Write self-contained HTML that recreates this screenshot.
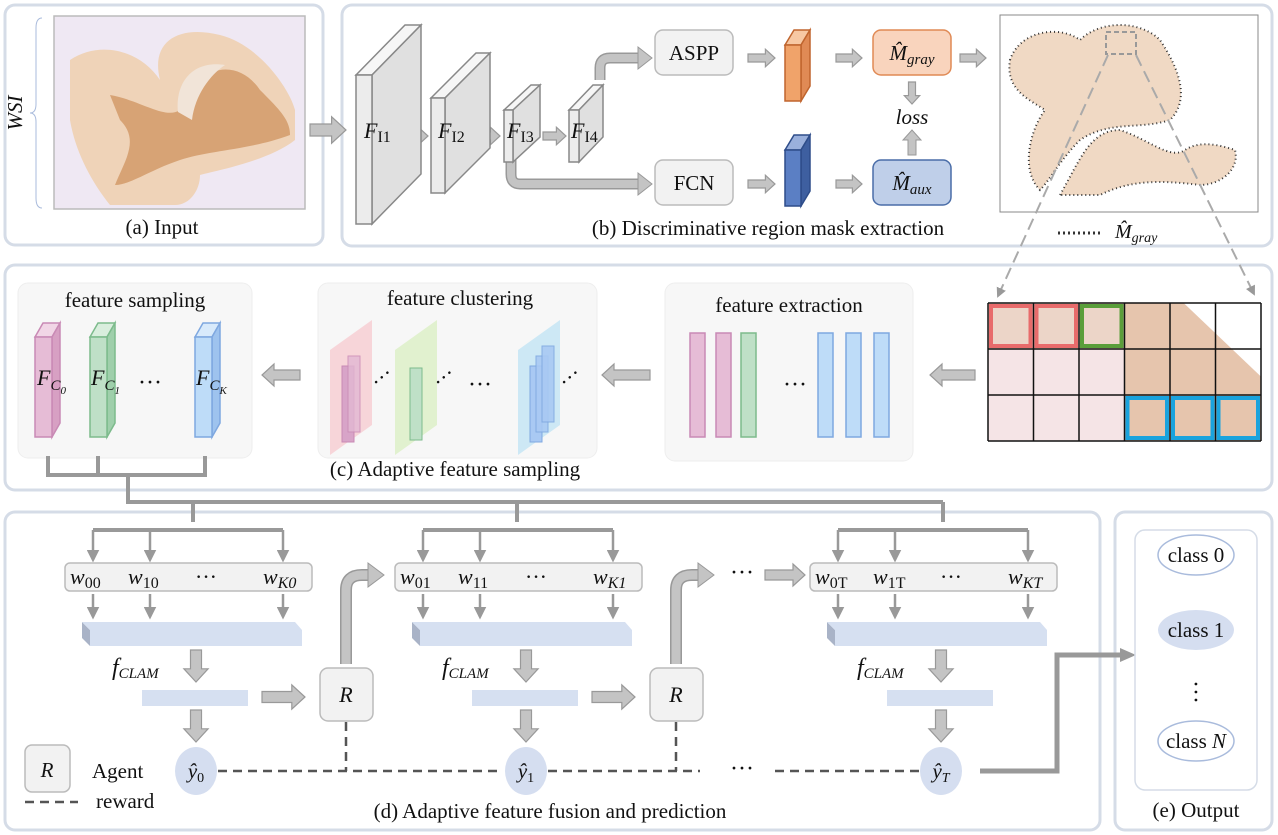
<!DOCTYPE html>
<html><head><meta charset="utf-8"><style>
html,body{margin:0;padding:0;background:#fff;}
svg{display:block;font-family:"Liberation Serif",serif;}
.lbl{font-size:21px;fill:#111;}
.it{font-style:italic;}
</style></head><body>
<svg id="s" width="1278" height="835" viewBox="0 0 1278 835" xmlns="http://www.w3.org/2000/svg">
<defs>
<marker id="ah" viewBox="0 0 10 10" refX="8" refY="5" markerWidth="5" markerHeight="5" orient="auto"><path d="M0,0 L10,5 L0,10 z" fill="#999"/></marker>
</defs>
<!-- panels -->
<rect x="5" y="5" width="318" height="240" rx="10" fill="#fff" stroke="#d5dce7" stroke-width="3"/>
<rect x="342" y="5" width="930" height="241" rx="10" fill="#fff" stroke="#d5dce7" stroke-width="3"/>
<rect x="5" y="265" width="1267" height="225" rx="10" fill="#fff" stroke="#d5dce7" stroke-width="3"/>
<rect x="5" y="512" width="1095" height="318" rx="10" fill="#fff" stroke="#d5dce7" stroke-width="3"/>
<rect x="1115" y="512" width="157" height="318" rx="10" fill="#fff" stroke="#d5dce7" stroke-width="3"/>

<!-- (a) input -->
<rect x="54" y="16" width="251" height="193" fill="#efe8f3" stroke="#bbb" stroke-width="1.5"/>
<path d="M70,60 C100,40 140,50 160,80 C150,40 180,25 220,35 C260,45 290,90 295,110 L295,140 C270,160 220,170 200,175 C200,190 190,205 175,205 L110,205 C90,180 75,150 70,120 Z" fill="#efd3b8"/>
<path d="M110,95 C140,100 165,120 180,110 C200,60 240,60 260,90 C280,110 290,120 290,135 C250,150 210,150 180,160 C150,170 130,185 115,185 C125,160 140,140 120,120 Z" fill="#d29a68" opacity="0.85"/>
<path d="M178,112 C175,80 195,60 225,65 C210,75 195,95 192,120 Z" fill="#f1e4d8"/>
<path d="M42,18 Q36,18 36,28 L36,104 Q36,113 30,113 Q36,113 36,122 L36,198 Q36,208 42,208" fill="none" stroke="#a9bbdc" stroke-width="1"/>
<text x="22" y="113" class="lbl it" text-anchor="middle" transform="rotate(-90 22 113)">WSI</text>
<text x="162" y="234" class="lbl" text-anchor="middle">(a) Input</text>

<!-- (b) -->
<path d="M600,80 L600,68 Q600,58 610,58 L640,58" fill="none" stroke="#999" stroke-width="11"/>
<path d="M600,80 L600,68 Q600,58 610,58 L640,58" fill="none" stroke="#c4c4c4" stroke-width="8"/>
<polygon points="638,47 652,58 638,69" fill="#c4c4c4" stroke="#999"/>
<path d="M511,160 L511,174 Q511,184 520,184 L640,184" fill="none" stroke="#999" stroke-width="11"/>
<path d="M511,160 L511,174 Q511,184 520,184 L640,184" fill="none" stroke="#c4c4c4" stroke-width="8"/>
<polygon points="638,173 652,184 638,195" fill="#c4c4c4" stroke="#999"/>
<rect x="655" y="30" width="78" height="45" rx="8" fill="#f2f2f2" stroke="#bbb" stroke-width="1.5"/>
<text x="694" y="60" class="lbl" text-anchor="middle">ASPP</text>
<rect x="655" y="160" width="78" height="45" rx="8" fill="#f2f2f2" stroke="#bbb" stroke-width="1.5"/>
<text x="694" y="190" class="lbl" text-anchor="middle">FCN</text>
<rect x="873" y="30" width="78" height="45" rx="8" fill="#f9d4bd" stroke="#e08a55" stroke-width="1.5"/>
<text x="912" y="60" font-size="21" text-anchor="middle" font-style="italic" fill="#111">M̂<tspan font-size="15" dy="4">gray</tspan></text>
<rect x="873" y="160" width="78" height="45" rx="8" fill="#bfcfe9" stroke="#4a6da8" stroke-width="1.5"/>
<text x="912" y="190" font-size="21" text-anchor="middle" font-style="italic" fill="#111">M̂<tspan font-size="15" dy="4">aux</tspan></text>
<text x="912" y="124" class="lbl it" text-anchor="middle" font-style="italic">loss</text>

<!-- mask image -->
<rect x="1000" y="15" width="258" height="197" fill="#fff" stroke="#888" stroke-width="1"/>
<path d="M1010,60 C1020,30 1060,25 1080,40 C1100,20 1140,20 1160,40 C1180,70 1190,100 1170,120 C1140,130 1110,120 1080,140 C1060,160 1050,180 1040,190 C1020,170 1030,130 1045,110 C1030,100 1005,90 1010,60 Z" fill="#f0d9c4" stroke="#333" stroke-width="2" stroke-dasharray="1,3"/>
<path d="M1060,195 C1080,160 1090,130 1120,130 C1150,140 1170,160 1185,150 C1200,140 1220,145 1235,150 C1240,170 1220,185 1200,185 C1160,180 1130,180 1100,195 Z" fill="#f0d9c4" stroke="#333" stroke-width="2" stroke-dasharray="1,3"/>
<rect x="1106" y="32" width="30" height="22" fill="none" stroke="#999" stroke-width="2" stroke-dasharray="5,3"/>
<line x1="1108" y1="55" x2="998" y2="296" stroke="#aaa" stroke-width="2" stroke-dasharray="12,6" marker-end="url(#ah)"/>
<line x1="1136" y1="55" x2="1254" y2="294" stroke="#aaa" stroke-width="2" stroke-dasharray="12,6" marker-end="url(#ah)"/>
<line x1="1058" y1="233" x2="1100" y2="233" stroke="#333" stroke-width="3" stroke-dasharray="2,3"/>
<text x="1115" y="238" font-size="20" font-style="italic" fill="#111">M̂<tspan font-size="14" dy="4">gray</tspan></text>
<text x="768" y="235" class="lbl" text-anchor="middle">(b) Discriminative region mask extraction</text>

<!-- (c) -->
<rect x="18" y="283" width="234" height="175" rx="10" fill="#f7f7f7" stroke="#eee"/>
<text x="135" y="307" class="lbl" text-anchor="middle">feature sampling</text>
<rect x="318" y="283" width="279" height="175" rx="10" fill="#f7f7f7" stroke="#eee"/>
<text x="460" y="305" class="lbl" text-anchor="middle">feature clustering</text>
<rect x="665" y="283" width="248" height="178" rx="10" fill="#f7f7f7" stroke="#eee"/>
<text x="789" y="312" class="lbl" text-anchor="middle">feature extraction</text>
<g id="extract"></g>
<text x="795" y="392" font-size="24" text-anchor="middle" fill="#111">···</text>
<g id="cluster"></g>
<text x="378" y="390" font-size="22" fill="#111" transform="rotate(-40 378 390)">···</text>
<text x="480" y="392" font-size="24" text-anchor="middle" fill="#111">···</text>
<text x="440" y="390" font-size="22" fill="#111" transform="rotate(-40 440 390)">···</text>
<text x="566" y="390" font-size="22" fill="#111" transform="rotate(-40 566 390)">···</text>
<g id="grid"></g>
<text x="150" y="390" font-size="24" text-anchor="middle" fill="#111">···</text>
<text x="455" y="476" class="lbl" text-anchor="middle">(c) Adaptive feature sampling</text>
<g fill="none" stroke="#999" stroke-width="4">
<path d="M48,456 L48,475 L205,475 L205,456 M98,456 L98,475 M128,475 L128,502 L943,502 M193,502 L193,522 M517,502 L517,522 M943,502 L943,522"/>
</g>

<g id="stages"></g>

<!-- legend -->
<rect x="25" y="745" width="45" height="47" rx="7" fill="#f2f2f2" stroke="#bbb" stroke-width="1.5"/>
<text x="47" y="777" class="lbl it" text-anchor="middle" font-style="italic">R</text>
<text x="92" y="778" class="lbl">Agent</text>
<line x1="25" y1="802" x2="78" y2="802" stroke="#555" stroke-width="2.5" stroke-dasharray="9,6"/>
<text x="96" y="808" class="lbl">reward</text>
<text x="550" y="818" class="lbl" text-anchor="middle">(d) Adaptive feature fusion and prediction</text>
<g stroke="#555" stroke-width="2.5" stroke-dasharray="9,6" fill="none">
<path d="M218,771 L503,771 M346,722 L346,771 M548,771 L700,771 M676,722 L676,771 M775,771 L920,771"/>
</g>
<text x="742" y="776" font-size="24" text-anchor="middle" fill="#111">···</text>
<text x="742" y="580" font-size="24" text-anchor="middle" fill="#111">···</text>
<path d="M980,771 L1057,771 L1057,655 L1122,655" fill="none" stroke="#999" stroke-width="5"/>
<polygon points="1120,648 1136,655 1120,662" fill="#999"/>

<!-- (e) -->
<rect x="1135" y="530" width="122" height="260" rx="10" fill="#fff" stroke="#d5dce7" stroke-width="1.5"/>
<ellipse cx="1196" cy="555" rx="38" ry="20" fill="#fff" stroke="#a9bbdc" stroke-width="1.5"/>
<text x="1196" y="562" class="lbl" text-anchor="middle">class 0</text>
<ellipse cx="1196" cy="630" rx="38" ry="20" fill="#d5def0"/>
<text x="1196" y="637" class="lbl" text-anchor="middle">class 1</text>
<text x="1196" y="700" font-size="24" text-anchor="middle" fill="#111" transform="rotate(90 1196 692)">···</text>
<ellipse cx="1196" cy="741" rx="38" ry="20" fill="#fff" stroke="#a9bbdc" stroke-width="1.5"/>
<text x="1196" y="748" class="lbl" text-anchor="middle">class <tspan font-style="italic">N</tspan></text>
<text x="1196" y="817" class="lbl" text-anchor="middle">(e) Output</text>

<g id="arrows"></g>
<g id="blocks"></g>
<g font-size="22" fill="#111">
<text x="364" y="138" font-style="italic">F<tspan font-style="normal" font-size="16" dy="4">I1</tspan></text>
<text x="438" y="138" font-style="italic">F<tspan font-style="normal" font-size="16" dy="4">I2</tspan></text>
<text x="507" y="138" font-style="italic">F<tspan font-style="normal" font-size="16" dy="4">I3</tspan></text>
<text x="571" y="138" font-style="italic">F<tspan font-style="normal" font-size="16" dy="4">I4</tspan></text>
</g>
<g id="labels"></g>
</svg>
<script>
var NS='http://www.w3.org/2000/svg';
function mk(p,tag,at){var e=document.createElementNS(NS,tag);for(var k in at)e.setAttribute(k,at[k]);p.appendChild(e);return e;}
var A=document.getElementById('arrows'),B=document.getElementById('blocks'),L=document.getElementById('labels');
function rArrow(p,x1,y,x2,h){h=h||1;var s=5*h,hh=11*h,hl=12*h;
 return mk(p,'polygon',{points:[x1,y-s,x2-hl,y-s,x2-hl,y-hh,x2,y,x2-hl,y+hh,x2-hl,y+s,x1,y+s].join(' '),fill:'#c4c4c4',stroke:'#999','stroke-width':1.2});}
function lArrow(p,x1,y,x2){var s=5,hh=11,hl=12;
 return mk(p,'polygon',{points:[x1,y-s,x2+hl,y-s,x2+hl,y-hh,x2,y,x2+hl,y+hh,x2+hl,y+s,x1,y+s].join(' '),fill:'#c4c4c4',stroke:'#999','stroke-width':1.2});}
function dArrow(p,x,y1,y2,w){w=w||1;var s=5*w,hh=11*w,hl=12*w;
 return mk(p,'polygon',{points:[x-s,y1,x-s,y2-hl,x-hh,y2-hl,x,y2,x+hh,y2-hl,x+s,y2-hl,x+s,y1].join(' '),fill:'#c4c4c4',stroke:'#999','stroke-width':1.2});}
function block(p,x,y,w,h,dx,dy,f1,f2,f3,st){
 mk(p,'polygon',{points:[x,y,x+dx,y+dy,x+w+dx,y+dy,x+w,y].join(' '),fill:f2,stroke:st,'stroke-width':1.5});
 mk(p,'polygon',{points:[x+w,y,x+w+dx,y+dy,x+w+dx,y+h+dy,x+w,y+h].join(' '),fill:f3,stroke:st,'stroke-width':1.5});
 return mk(p,'rect',{x:x,y:y,width:w,height:h,fill:f1,stroke:st,'stroke-width':1.5});}
var e;
e=rArrow(A,310,130,346,1.2);


e=block(B,356,75,16,149,49,-50,'#ececec','#f6f6f6','#e0e0e0','#888');


e=block(B,431,98,14,95,45,-45,'#ececec','#f6f6f6','#e0e0e0','#888');


e=block(B,504,110,9,52,27,-25,'#ececec','#f6f6f6','#e0e0e0','#888');


e=block(B,569,110,10,52,24,-25,'#ececec','#f6f6f6','#e0e0e0','#888');


rArrow(A,403,136,428,0.8);rArrow(A,475,136,500,0.8);rArrow(A,543,136,566,0.8);
e=block(B,785,45,16,56,9,-15,'#f0a36a','#f7c8a3','#e08a55','#c0652e');


e=block(B,785,150,16,56,9,-15,'#5b7fc4','#9ab0dc','#3e5fa0','#2e4d8a');


rArrow(A,748,58,775,0.8);rArrow(A,748,184,775,0.8);
rArrow(A,836,58,862,0.8);rArrow(A,836,184,862,0.8);
rArrow(A,960,58,986,0.8);
dArrow(A,912,82,104,0.7);
mk(A,'polygon',{points:'908,155 908,140 903,140 912,130 921,140 916,140 916,155',fill:'#c4c4c4',stroke:'#999'});
lArrow(A,975,375,930);lArrow(A,650,375,602);lArrow(A,300,375,262);
// extraction bars
var X=document.getElementById('extract');
var barCols=[['#e6bcd6','#c98ab5'],['#e6bcd6','#c98ab5'],['#bfe0c7','#7dbb8c'],['#bedcf8','#7fa8e0'],['#bedcf8','#7fa8e0'],['#bedcf8','#7fa8e0']];
var barX=[690,716,741,818,846,874];
for(var i=0;i<6;i++){e=mk(X,'rect',{x:barX[i],y:333,width:15,height:104,fill:barCols[i][0],stroke:barCols[i][1],'stroke-width':1.5});

}
// sampling blocks
e=block(B,35,337,17,100,8,-14,'#e6bcd6','#f1d6e6','#d7a0c3','#c98ab5');


e=block(B,90,337,17,100,8,-14,'#bfe0c7','#d9eedd','#9fcfab','#7dbb8c');


e=block(B,195,337,17,100,8,-14,'#bedcf8','#d8eafb','#9ec3ee','#7fa8e0');


var lab=[[37,'0'],[91,'1'],[196,'K']];
for(var i=0;i<3;i++){e=mk(L,'text',{x:lab[i][0],y:385,'font-size':22,'font-style':'italic',fill:'#111'});
e.textContent='F';var t=mk(e,'tspan',{'font-size':15,dy:5});t.textContent='C';var t2=mk(e,'tspan',{'font-size':11,dy:4});t2.textContent=lab[i][1];

}
// clustering planes
var C=document.getElementById('cluster');
var planes=[[330,'#f7c9cf'],[395,'#d9efc1'],[518,'#bfe3f4']];
for(var i=0;i<3;i++){var px=planes[i][0];
e=mk(C,'polygon',{points:[px,350,px+42,320,px+42,425,px,455].join(' '),fill:planes[i][1],opacity:0.75});

}
mk(C,'rect',{x:342,y:366,width:12,height:76,fill:'#d8a4c8',stroke:'#c98ab5'});
mk(C,'rect',{x:348,y:356,width:12,height:76,fill:'#e3b8d3',stroke:'#c98ab5',opacity:0.8});
mk(C,'rect',{x:410,y:368,width:12,height:72,fill:'#bfe0c7',stroke:'#7dbb8c'});
mk(C,'rect',{x:530,y:366,width:12,height:76,fill:'#a9c9f3',stroke:'#7fa8e0'});
mk(C,'rect',{x:536,y:356,width:12,height:76,fill:'#a9c9f3',stroke:'#7fa8e0',opacity:0.9});
mk(C,'rect',{x:542,y:346,width:12,height:76,fill:'#a9c9f3',stroke:'#7fa8e0',opacity:0.9});
// grid
var G=document.getElementById('grid');
var gx=988,gy=303,cw=45.5,rh=46;
mk(G,'rect',{x:gx,y:gy,width:cw*6,height:rh*3,fill:'#f5e6e8'});
mk(G,'polygon',{points:[gx,gy,gx+cw*4.5,gy,gx+cw*6,gy+rh*1.5,gx+cw*6,gy+rh*3,gx+cw*3,gy+rh*3,gx,gy+rh*3].join(' '),fill:'#ecd5c8'});
mk(G,'polygon',{points:[gx+cw*3,gy,gx+cw*4.5,gy,gx+cw*6,gy+rh*1.5,gx+cw*6,gy+rh*3,gx+cw*3,gy+rh*3].join(' '),fill:'#e6c5ad'});
mk(G,'polygon',{points:[gx+cw*4.3,gy,gx+cw*6,gy,gx+cw*6,gy+rh*1.6].join(' '),fill:'#fff'});
mk(G,'rect',{x:gx,y:gy+rh,width:cw*3,height:rh*2,fill:'#f5e4e6'});
for(var r=0;r<=3;r++)mk(G,'line',{x1:gx,y1:gy+r*rh,x2:gx+6*cw,y2:gy+r*rh,stroke:'#111','stroke-width':1.5});
for(var c=0;c<=6;c++)mk(G,'line',{x1:gx+c*cw,y1:gy,x2:gx+c*cw,y2:gy+3*rh,stroke:'#111','stroke-width':1.5});
var hl=[[0,0,'#e86b6b'],[1,0,'#e86b6b'],[2,0,'#5a9e3a'],[3,2,'#1aa3dd'],[4,2,'#1aa3dd'],[5,2,'#1aa3dd']];
for(var i=0;i<hl.length;i++){e=mk(G,'rect',{x:gx+hl[i][0]*cw+3,y:gy+hl[i][1]*rh+3,width:cw-6,height:rh-6,fill:'none',stroke:hl[i][2],'stroke-width':4});

}
// stages
var S=document.getElementById('stages');
var offs=[0,330,745],subs=[['00','10','K0'],['01','11','K1'],['0T','1T','KT']],yh=['0','1','T'];
for(var k=0;k<3;k++){var o=offs[k];
 mk(S,'path',{d:'M'+(93+o)+',530 L'+(283+o)+',530',stroke:'#999','stroke-width':4,fill:'none'});
 var ax=[93,150,283];
 for(var j=0;j<3;j++){mk(S,'line',{x1:ax[j]+o,y1:530,x2:ax[j]+o,y2:560,stroke:'#999','stroke-width':2.5,'marker-end':'url(#ah)'});
  mk(S,'line',{x1:ax[j]+o,y1:594,x2:ax[j]+o,y2:617,stroke:'#999','stroke-width':2.5,'marker-end':'url(#ah)'});}
 e=mk(S,'rect',{x:65+o,y:563,width:247,height:28,rx:5,fill:'#f2f2f2',stroke:'#bbb','stroke-width':1.5});
 
 
 var wx=[70,128,263];
 for(var j=0;j<3;j++){var t=mk(S,'text',{x:wx[j]+o,y:584,'font-size':22,'font-style':'italic',fill:'#111'});t.textContent='w';var ts=mk(t,'tspan',{'font-size':16,dy:4,'font-style':j==2?'italic':'normal'});ts.textContent=subs[k][j];}
 var dt=mk(S,'text',{x:206+o,y:584,'font-size':22,fill:'#111','text-anchor':'middle'});dt.textContent='···';
 mk(S,'polygon',{points:[82+o,622,90+o,630,90+o,646,82+o,638].join(' '),fill:'#a9b3c7'});
 e=mk(S,'polygon',{points:[82+o,622,295+o,622,302+o,630,302+o,646,90+o,646,90+o,630].join(' '),fill:'#d6e0f1'});
 
 
 var ft=mk(S,'text',{x:112+o,y:675,'font-size':24,'font-style':'italic',fill:'#111'});ft.textContent='f';var fs=mk(ft,'tspan',{'font-size':15,dy:3});fs.textContent='CLAM';
 dArrow(S,196+o,650,682,1.1);
 e=mk(S,'rect',{x:142+o,y:690,width:106,height:16,fill:'#d6e0f1'});
 
 
 dArrow(S,196+o,710,742,1.1);
 e=mk(S,'ellipse',{cx:196+o,cy:771,rx:21,ry:24,fill:'#d5def0'});
 
 
 var yt=mk(S,'text',{x:196+o,y:778,'font-size':21,'font-style':'italic',fill:'#111','text-anchor':'middle'});yt.textContent='ŷ';var yy=mk(yt,'tspan',{'font-size':14,dy:4,'font-style':k==2?'italic':'normal'});yy.textContent=yh[k];
 if(k<2){rArrow(S,262+o,697,305+o,1.1);
  e=mk(S,'rect',{x:320+o,y:668,width:53,height:53,rx:8,fill:'#f2f2f2',stroke:'#bbb','stroke-width':1.5});
  
  
  var rt=mk(S,'text',{x:346+o,y:702,'font-size':22,'font-style':'italic',fill:'#111','text-anchor':'middle'});rt.textContent='R';
  var pd='M'+(346+o)+',664 L'+(346+o)+',590 Q'+(346+o)+',575 '+(362+o)+',575 L'+(370+o)+',575';
  mk(S,'path',{d:pd,stroke:'#999','stroke-width':12,fill:'none'});
  mk(S,'path',{d:pd,stroke:'#c4c4c4','stroke-width':9,fill:'none'});
  mk(S,'polygon',{points:[368+o,563,384+o,575,368+o,587].join(' '),fill:'#c4c4c4',stroke:'#999'});}
}
rArrow(S,765,575,805,1);
</script>
</body></html>
